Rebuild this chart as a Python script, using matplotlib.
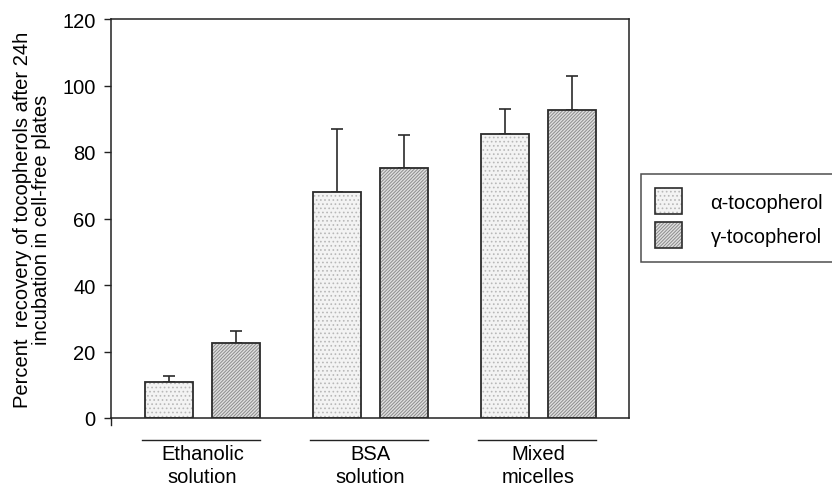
import matplotlib
matplotlib.use('Agg')
import matplotlib.pyplot as plt
from matplotlib.patches import Patch
import numpy as np

plt.rcParams['font.family'] = ['Liberation Sans', 'DejaVu Sans']
plt.rcParams['hatch.linewidth'] = 0.7

groups = ['Ethanolic\nsolution', 'BSA\nsolution', 'Mixed\nmicelles']
alpha_vals = [10.8, 68.0, 85.5]
alpha_err = [1.7, 19.0, 7.5]
gamma_vals = [22.6, 75.3, 92.5]
gamma_err = [3.7, 9.7, 10.5]
labels = ['\u03b1-tocopherol', '\u03b3-tocopherol']

fs = 14.5
edge = '#2b2b2b'
gamma_hatch = '/' * 10

fig = plt.figure(figsize=(8.32, 4.89), dpi=100)
ax = fig.add_axes([111/832, 1 - 419/489, 518/832, 399/489])

x = np.arange(len(groups)) * 3.5
w = 1.0
off = 0.7

# alpha bars: light fill with dots
ax.bar(x - off, alpha_vals, w, color='#f3f3f3', edgecolor='#b8b8b8', hatch='....', linewidth=0, zorder=2)
ax.bar(x - off, alpha_vals, w, fill=False, edgecolor=edge, linewidth=1.3, zorder=3)
# gamma bars: gray fill with dense diagonal lines
ax.bar(x + off, gamma_vals, w, color='#e0e0e0', edgecolor='#8c8c8c', hatch=gamma_hatch, linewidth=0, zorder=2)
ax.bar(x + off, gamma_vals, w, fill=False, edgecolor=edge, linewidth=1.3, zorder=3)

ax.errorbar(x - off, alpha_vals, yerr=[np.zeros(3), alpha_err], fmt='none', ecolor=edge,
            elinewidth=1.2, capsize=4.5, capthick=1.2, zorder=1)
ax.errorbar(x + off, gamma_vals, yerr=[np.zeros(3), gamma_err], fmt='none', ecolor=edge,
            elinewidth=1.2, capsize=4.5, capthick=1.2, zorder=1)

ax.set_xlim(-1.906, 8.885)
ax.set_ylim(0, 120)
ax.set_yticks(np.arange(0, 121, 20))
ax.tick_params(axis='y', direction='out', length=5, width=1, labelsize=fs, pad=6, color='#222222')
ax.set_xticks(x)
ax.set_xticklabels(groups, fontsize=fs, linespacing=1.25)
ax.tick_params(axis='x', length=0, pad=19)
for s in ax.spines.values():
    s.set_linewidth(1.1)
    s.set_color('#222222')

# small tick below origin
ax.plot([-1.906, -1.906], [0, -2], color='#222222', lw=1, clip_on=False)

# group underlines
trans = ax.get_xaxis_transform()
for xc in x:
    ax.plot([xc - 1.27, xc + 1.2], [-0.055, -0.055], transform=trans, color='#222222', lw=1, clip_on=False)

ax.set_ylabel('Percent  recovery of tocopherols after 24h\nincubation in cell-free plates',
              fontsize=fs, linespacing=1.0, labelpad=8)

h_alpha = (Patch(facecolor='#f3f3f3', edgecolor='#b8b8b8', hatch='....', linewidth=0),
           Patch(fill=False, edgecolor=edge, linewidth=1.2))
h_gamma = (Patch(facecolor='#e0e0e0', edgecolor='#8c8c8c', hatch=gamma_hatch, linewidth=0),
           Patch(fill=False, edgecolor=edge, linewidth=1.2))
leg = fig.legend([h_alpha, h_gamma], labels, loc='center left',
                 bbox_to_anchor=(641/832, 1 - 219/489), fontsize=fs, frameon=True, fancybox=False,
                 handlelength=1.35, handleheight=1.6, handletextpad=1.4, borderpad=0.7,
                 labelspacing=0.4, borderaxespad=0)
leg.get_frame().set_edgecolor('#222222')
leg.get_frame().set_linewidth(1.1)

fig.savefig('out.png', dpi=100)
